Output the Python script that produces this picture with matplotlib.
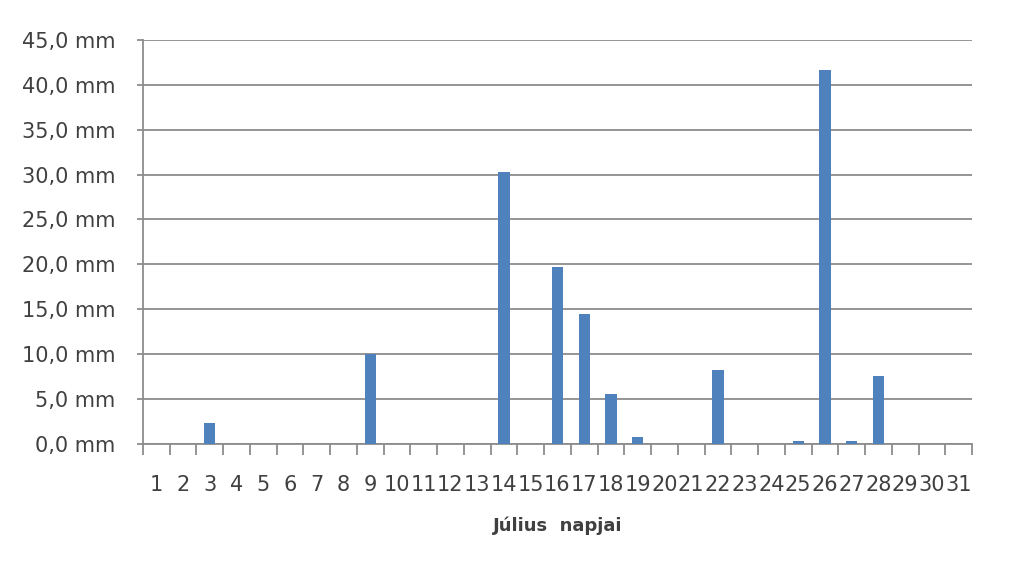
import matplotlib.pyplot as plt
import numpy as np
from matplotlib.ticker import FuncFormatter

# daily rainfall in July (mm)
days = list(range(1, 32))
rain = [0, 0, 2.3, 0, 0, 0, 0, 0, 10.0, 0,
        0, 0, 0, 30.3, 0, 19.7, 14.5, 5.6, 0.8, 0,
        0, 8.2, 0, 0, 0.3, 41.6, 0.3, 7.6, 0, 0, 0]
y_ticks = np.arange(0, 46, 5)

grid_col = '#8c8c8c'
text_col = '#404040'

fig = plt.figure(figsize=(10.2, 5.76), dpi=100)
ax = fig.add_axes([0.140, 0.229, 0.813, 0.702])

ax.bar(days, rain, width=0.42, color='#4f81bd', zorder=3)

ax.set_xlim(0.5, 31.5)
ax.set_ylim(0, 45)
ax.set_yticks(y_ticks)
ax.yaxis.set_major_formatter(FuncFormatter(lambda v, p: f"{v:.1f}".replace('.', ',') + " mm"))
ax.yaxis.grid(True, color=grid_col, linewidth=1.3, zorder=0)

ax.set_xticks(days)
ax.set_xticklabels([str(d) for d in days])
ax.set_xticks(np.arange(0.5, 32, 1), minor=True)
ax.tick_params(axis='x', which='major', length=0, pad=22, labelsize=15, labelcolor=text_col)
ax.tick_params(axis='x', which='minor', length=8, width=1.3, color=grid_col, direction='out')
ax.tick_params(axis='y', length=4, width=1.3, color=grid_col, pad=16, labelsize=15, labelcolor=text_col)

for s in ['top', 'right']:
    ax.spines[s].set_visible(False)
for s in ['left', 'bottom']:
    ax.spines[s].set_color(grid_col)
    ax.spines[s].set_linewidth(1.3)

ax.set_xlabel('Július  napjai', fontsize=13, fontweight='bold', color=text_col, labelpad=16)

fig.savefig('out.png', dpi=100)
